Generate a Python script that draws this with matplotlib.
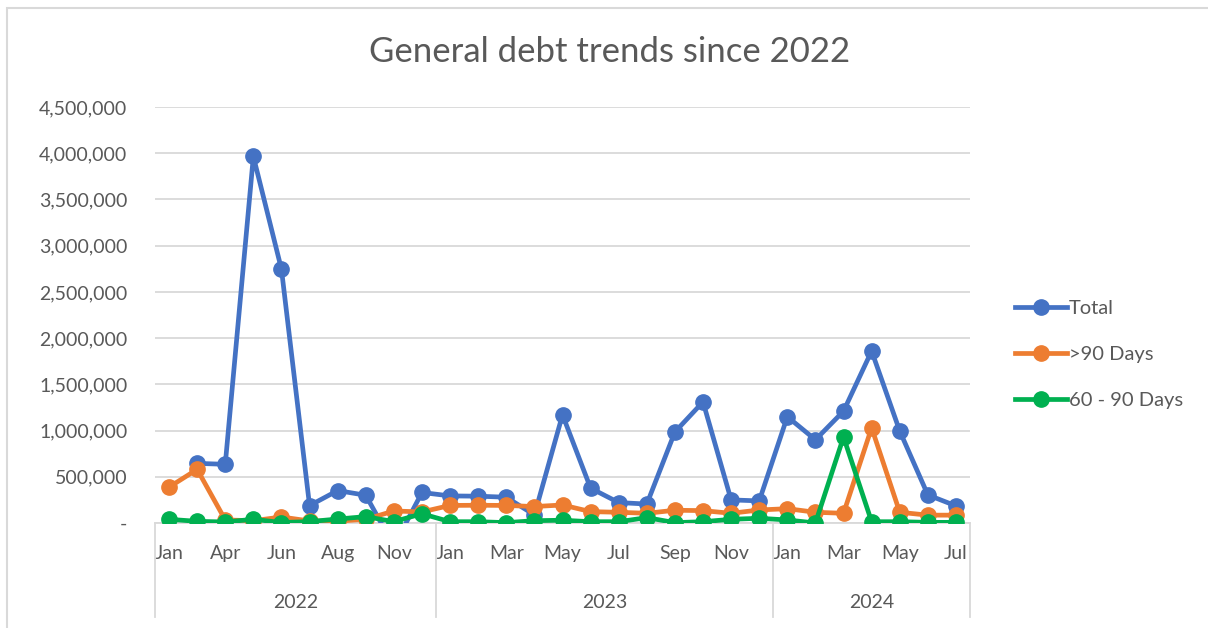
import matplotlib.pyplot as plt
import numpy as np
from matplotlib.patches import Rectangle
from matplotlib.ticker import FuncFormatter
import matplotlib.transforms as mtransforms

plt.rcParams['font.family'] = ['Lato', 'DejaVu Sans']

# categories (multi-level axis: year / month)
years = ['2022', '2023', '2024']
months_2022 = ['Jan', 'Mar', 'Apr', 'May', 'Jun', 'Jul', 'Aug', 'Sep', 'Nov', 'Dec']
months_2023 = ['Jan', 'Feb', 'Mar', 'Apr', 'May', 'Jun', 'Jul', 'Aug', 'Sep', 'Oct', 'Nov', 'Dec']
months_2024 = ['Jan', 'Feb', 'Mar', 'Apr', 'May', 'Jun', 'Jul']
months = months_2022 + months_2023 + months_2024

# series values
total = [np.nan, 645000, 635000, 3965000, 2745000, 188000, 351000, 300000, -250000, 330000,
         293000, 290000, 279000, 87000, 1170000, 377000, 221000, 205000, 985000, 1310000, 250000, 239000,
         1150000, 900000, 1210000, 1860000, 995000, 304000, 185000]
over_90 = [388000, 580000, 33000, 25000, 65000, 22000, 20000, 40000, 130000, 120000,
           190000, 192000, 190000, 178000, 195000, 123000, 116000, 105000, 138000, 134000, 105000, 141000,
           155000, 116000, 105000, 1030000, 116000, 85000, 85000]
d60_90 = [40000, 18000, 11000, 40000, 5000, 15000, 43000, 69000, 15000, 100000,
          14000, 14000, 4000, 25000, 30000, 14000, 14000, 58000, 4000, 14000, 40000, 51000,
          33000, 0, 930000, 14000, 14000, 7000, 7000]

fig = plt.figure(figsize=(12.08, 6.28), dpi=100)
fig.patches.append(Rectangle((7 / 1208, -0.02), 1.05, (628 - 8) / 628 + 0.02,
                             transform=fig.transFigure, fill=False,
                             edgecolor='#D9D9D9', linewidth=1.5))

ax = fig.add_axes([155 / 1208, 105 / 628, 815 / 1208, 416 / 628])
x = np.arange(len(months))

ax.plot(x, total, color='#4472C4', lw=3.4, marker='o', ms=11, label='Total', zorder=3)
ax.plot(x, over_90, color='#ED7D31', lw=3.4, marker='o', ms=11, label='>90 Days', zorder=4)
ax.plot(x, d60_90, color='#00B050', lw=3.4, marker='o', ms=11, label='60 - 90 Days', zorder=5)

ax.set_ylim(0, 4500000)
ax.set_xlim(-0.5, len(months) - 0.5)
ax.set_yticks(np.arange(0, 4500001, 500000))
ax.yaxis.set_major_formatter(FuncFormatter(lambda v, p: '-' if v == 0 else f'{int(v):,}'))
ax.grid(axis='y', color='#D9D9D9', lw=1.3)
ax.set_axisbelow(True)
for s in ['top', 'right', 'left']:
    ax.spines[s].set_visible(False)
ax.spines['bottom'].set_color('#D9D9D9')
ax.spines['bottom'].set_linewidth(1.3)

ax.set_xticks(x)
ax.set_xticklabels([m if i % 2 == 0 else '' for i, m in enumerate(months)])
ax.tick_params(axis='x', length=0, pad=16, labelsize=14, labelcolor='#595959')
ax.tick_params(axis='y', length=0, pad=20, labelsize=14, labelcolor='#595959')

# year level of the axis
trans = mtransforms.blended_transform_factory(ax.transData, ax.transAxes)
sizes = [len(months_2022), len(months_2023), len(months_2024)]
edges = np.concatenate([[0], np.cumsum(sizes)]) - 0.5
for i, yr in enumerate(years):
    ax.text((edges[i] + edges[i + 1]) / 2, -0.19, yr, transform=trans,
            ha='center', va='center', fontsize=14, color='#595959')
for e in edges:
    ax.plot([e, e], [0, -0.225], transform=trans, color='#D9D9D9', lw=1.3, clip_on=False)

fig.text(610 / 1208, 1 - 52 / 628, 'General debt trends since 2022', ha='center', va='center',
         fontsize=25, color='#595959')

ax.legend(loc='center left', bbox_to_anchor=(1.045, 0.405), frameon=False, fontsize=14.5,
          labelcolor='#595959', handlelength=2.6, handletextpad=0.1, labelspacing=1.45,
          borderaxespad=0)

fig.savefig('out.png', dpi=100)
